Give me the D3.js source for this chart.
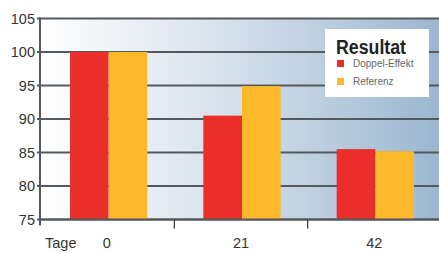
<!DOCTYPE html>
<html>
  <head>
    <meta charset="utf-8" />
    <script src="https://d3js.org/d3.v7.min.js"></script>
    <style>
      body { margin: 0; background: #ffffff; }
      text { font-family: "Liberation Sans", Arial, sans-serif; fill: #333333; }
      .grid line { stroke: #55585c; stroke-width: 2; }
    </style>
  </head>
  <body>
    <svg width="439" height="253"></svg>

    <script type="text/javascript">

    // data
    var days = ["0", "21", "42"];
    var doppelEffekt = [100, 90.5, 85.5];
    var referenz = [100, 94.9, 85.2];
    var yTicks = [75, 80, 85, 90, 95, 100, 105];
    var seriesNames = ["Doppel-Effekt", "Referenz"];
    var colors = ["#ea2e29", "#fdb92a"];

    var svg = d3.select("svg");
    // note: "top" is taken by window.top, so plot edges get other names
    var plotL = 40, plotT = 18.5, plotB = 219.5;

    var x = d3.scaleBand().domain(days).range([42, 442])
        .paddingInner(0.42).paddingOuter(0.21);
    var xi = d3.scaleBand().domain(seriesNames).range([0, x.bandwidth()]);
    var y = d3.scaleLinear().domain([75, 105]).range([plotB, plotT]);

    // background gradient
    var grad = svg.append("defs").append("linearGradient")
        .attr("id", "bg").attr("x1", "0").attr("x2", "1").attr("y1", "0").attr("y2", "0");
    grad.append("stop").attr("offset", "0").attr("stop-color", "#ffffff");
    grad.append("stop").attr("offset", "0.45").attr("stop-color", "#d8e2ec");
    grad.append("stop").attr("offset", "1").attr("stop-color", "#9bb7d0");

    svg.append("rect")
        .attr("x", plotL).attr("y", plotT)
        .attr("width", 439 - plotL).attr("height", plotB - plotT)
        .attr("fill", "url(#bg)");

    // grid lines
    svg.append("g").attr("class", "grid")
      .selectAll("line").data(yTicks).enter().append("line")
        .attr("x1", plotL - 3).attr("x2", 439)
        .attr("y1", function(d) { return y(d); })
        .attr("y2", function(d) { return y(d); });

    // bars
    var rows = days.map(function(d, i) {
      return { day: d, values: [doppelEffekt[i], referenz[i]] };
    });

    var groups = svg.append("g").selectAll("g").data(rows).enter().append("g")
        .attr("transform", function(d) { return "translate(" + x(d.day) + ",0)"; });

    groups.selectAll("rect")
        .data(function(d) { return d.values.map(function(v, j) { return { v: v, j: j }; }); })
        .enter().append("rect")
        .attr("x", function(d) { return xi(seriesNames[d.j]); })
        .attr("width", xi.bandwidth())
        .attr("y", function(d) { return y(d.v); })
        .attr("height", function(d) { return y(75) - y(d.v); })
        .attr("fill", function(d) { return colors[d.j]; });

    // bottom axis line + y axis line
    svg.append("line")
        .attr("x1", plotL).attr("x2", 439).attr("y1", plotB).attr("y2", plotB)
        .attr("stroke", "#55585c").attr("stroke-width", 2);
    svg.append("line")
        .attr("x1", plotL).attr("x2", plotL).attr("y1", plotT - 1).attr("y2", plotB + 6)
        .attr("stroke", "#55585c").attr("stroke-width", 2);

    // y labels
    svg.append("g").selectAll("text").data(yTicks).enter().append("text")
        .attr("x", 35).attr("y", function(d) { return y(d) + 5; })
        .attr("text-anchor", "end")
        .style("font-size", "14.5px")
        .text(function(d) { return d; });

    // x ticks between groups
    var seps = days.slice(1).map(function(d) { return x(d) - x.step() * x.paddingInner() / 2 - 1; });
    svg.append("g").selectAll("line").data(seps).enter().append("line")
        .attr("x1", function(d) { return d; }).attr("x2", function(d) { return d; })
        .attr("y1", plotB).attr("y2", plotB + 9)
        .attr("stroke", "#333").attr("stroke-width", 1.2);

    // x labels
    svg.append("g").selectAll("text").data(days).enter().append("text")
        .attr("x", function(d) { return x(d) + x.bandwidth() / 2 - 2 + (d === "0" ? 0 : 1); })
        .attr("y", 248)
        .attr("text-anchor", "middle")
        .style("font-size", "14.5px")
        .text(function(d) { return d; });

    svg.append("text")
        .attr("x", 45).attr("y", 248)
        .style("font-size", "14.5px")
        .text("Tage");

    // legend
    var lg = svg.append("g").attr("transform", "translate(325,29)");
    lg.append("rect").attr("width", 104).attr("height", 68).attr("fill", "#ffffff");
    lg.append("text")
        .attr("x", 11).attr("y", 25)
        .style("font-family", "'Liberation Sans Narrow', 'Liberation Sans', Arial, sans-serif")
        .style("font-weight", "bold").style("font-size", "20px")
        .attr("textLength", 70).attr("lengthAdjust", "spacingAndGlyphs")
        .style("fill", "#222")
        .text("Resultat");

    var items = lg.selectAll(".item").data(seriesNames).enter().append("g")
        .attr("transform", function(d, i) { return "translate(12," + (31 + i * 18) + ")"; });
    items.append("rect").attr("width", 7).attr("height", 7)
        .attr("fill", function(d, i) { return colors[i]; });
    items.append("text")
        .attr("x", 16).attr("y", 7)
        .style("font-size", "10px").style("fill", "#666")
        .text(function(d) { return d; });

    </script>
  </body>
</html>
